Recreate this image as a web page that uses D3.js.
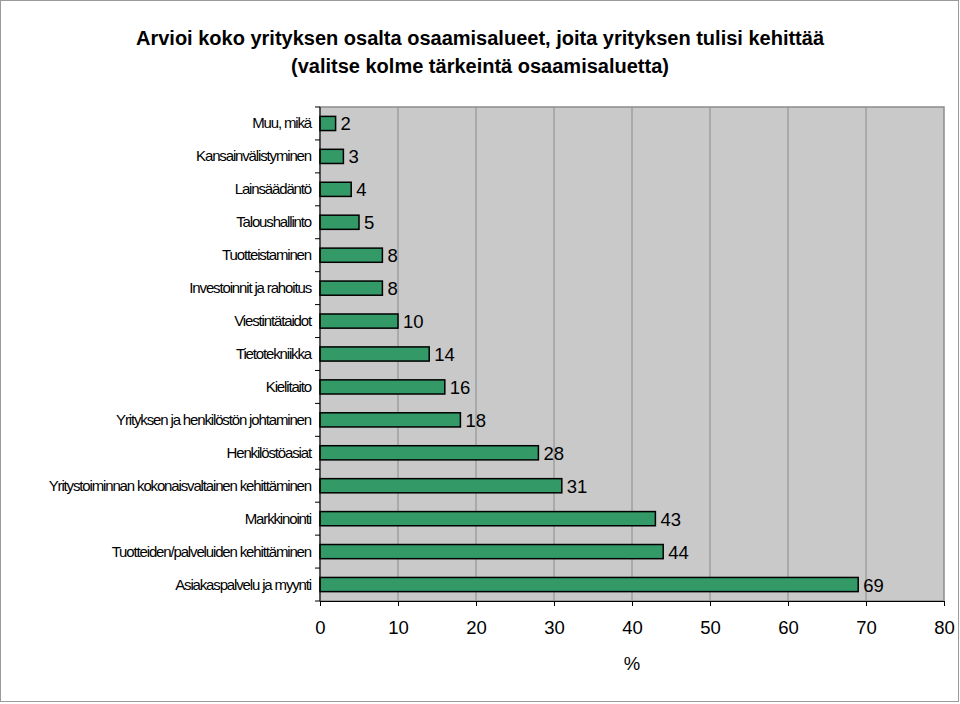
<!DOCTYPE html>
<html><head><meta charset="utf-8">
<script src="https://cdn.jsdelivr.net/npm/d3@7"></script>
<style>body{margin:0;background:#fff}svg{display:block}text{font-family:"Liberation Sans",Arial,sans-serif}</style>
</head><body>
<script>
const categories = ["Muu, mikä","Kansainvälistyminen","Lainsäädäntö","Taloushallinto","Tuotteistaminen","Investoinnit ja rahoitus","Viestintätaidot","Tietotekniikka","Kielitaito","Yrityksen ja henkilöstön johtaminen","Henkilöstöasiat","Yritystoiminnan kokonaisvaltainen kehittäminen","Markkinointi","Tuotteiden/palveluiden kehittäminen","Asiakaspalvelu ja myynti"];
const values = [2,3,4,5,8,8,10,14,16,18,28,31,43,44,69];
const xTicks = [0,10,20,30,40,50,60,70,80];
const titleLines = ["Arvioi koko yrityksen osalta osaamisalueet, joita yrityksen tulisi kehittää","(valitse kolme tärkeintä osaamisaluetta)"];
const xTitle = "%";

const W=960,H=704;
const svg=d3.select("body").append("svg").attr("width",W).attr("height",H);
svg.append("rect").attr("x",0.5).attr("y",0.5).attr("width",W-2).attr("height",H-3).attr("fill","#fff").attr("stroke","#9a9a9a");

const L=320,R=944,T=107,B=601;
const x=d3.scaleLinear().domain([0,80]).range([L,R]);
const y=d3.scaleBand().domain(categories).range([T,B]).paddingInner(0.57).paddingOuter(0.285);
const yb=d3.scaleBand().domain(categories).range([T,B]);

svg.append("rect").attr("x",L).attr("y",T).attr("width",R-L).attr("height",B-T).attr("fill","#c9c9c9").attr("stroke","#8c8c8c").attr("stroke-width",1.5);
svg.append("g").selectAll("line").data(xTicks.slice(1,-1)).join("line")
 .attr("x1",d=>x(d)).attr("x2",d=>x(d)).attr("y1",T).attr("y2",B).attr("stroke","#8a8a8a").attr("stroke-width",1);

svg.append("g").selectAll("rect").data(values).join("rect")
 .attr("x",x(0)).attr("y",(d,i)=>y(categories[i])).attr("width",d=>x(d)-x(0)).attr("height",y.bandwidth())
 .attr("fill","#339966").attr("stroke","#000").attr("stroke-width",1.5);

svg.append("g").selectAll("text").data(values).join("text")
 .attr("x",d=>x(d)+5).attr("y",(d,i)=>y(categories[i])+y.bandwidth()/2+7)
 .attr("font-size",18.5).attr("fill","#000").text(d=>d);

// y axis
const ya=svg.append("g").attr("transform",`translate(${L},0)`);
ya.append("line").attr("x1",0).attr("x2",0).attr("y1",T).attr("y2",B).attr("stroke","#000");
ya.selectAll("line.t").data(categories.concat(["__end"])).join("line").attr("class","t")
 .attr("x1",-5).attr("x2",0).attr("y1",(d,i)=>T+i*yb.step()).attr("y2",(d,i)=>T+i*yb.step()).attr("stroke","#000");
ya.selectAll("text").data(categories).join("text")
 .attr("x",-9).attr("y",d=>yb(d)+yb.bandwidth()/2+5).attr("text-anchor","end")
 .attr("font-size",15).attr("letter-spacing",-1.15).text(d=>d);

// x axis
const xa=svg.append("g").attr("transform",`translate(0,${B})`)
 .call(d3.axisBottom(x).tickValues(xTicks).tickSize(5).tickSizeOuter(0).tickPadding(15));
xa.select(".domain").attr("stroke","#000");
xa.selectAll(".tick line").attr("stroke","#000");
xa.selectAll("text").attr("font-size",18.5).attr("font-family","Liberation Sans, Arial, sans-serif").attr("fill","#000");

svg.append("text").attr("x",632).attr("y",670).attr("text-anchor","middle").attr("font-size",18.5).text(xTitle);

svg.selectAll("text.title").data(titleLines).join("text").attr("class","title")
 .attr("x",480).attr("y",(d,i)=>45+i*28).attr("text-anchor","middle")
 .attr("font-size",20).attr("font-weight","bold").text(d=>d);
</script>
</body></html>
